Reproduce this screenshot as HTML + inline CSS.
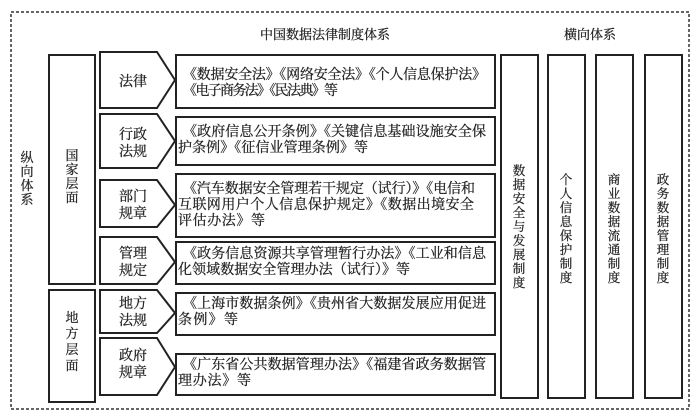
<!DOCTYPE html>
<html><head><meta charset="utf-8"><style>
html,body{margin:0;padding:0;background:#fff;}
svg{display:block}
text{font-family:"Liberation Serif","Noto Serif CJK SC",serif;fill:#222;stroke:#222;stroke-width:0.25;}
</style></head><body>
<svg width="700" height="419" viewBox="0 0 700 419" xmlns="http://www.w3.org/2000/svg">
<rect x="11" y="12" width="678" height="397" fill="none" stroke="#333" stroke-width="1.5" stroke-dasharray="3,2"/>
<g fill="none" stroke="#222" stroke-width="2">
<rect x="49" y="55" width="46" height="229"/>
<rect x="49" y="290" width="46" height="112"/>
<polygon points="100,52 157,52 175,80 157,108 100,108"/>
<polygon points="100,114 157,114 175,141 157,168 100,168"/>
<polygon points="100,180 157,180 175,205 157,227 100,227"/>
<polygon points="100,237 157,237 175,262 157,284 100,284"/>
<polygon points="100,290 157,290 175,313 157,333 100,333"/>
<polygon points="100,338 157,338 175,367 157,395 100,395"/>
<rect x="176" y="55" width="319" height="53"/>
<rect x="176" y="117" width="319" height="48"/>
<rect x="176" y="174" width="319" height="63"/>
<rect x="176" y="242" width="319" height="42"/>
<rect x="176" y="293" width="319" height="42"/>
<rect x="176" y="354" width="319" height="41"/>
<rect x="501" y="55" width="37" height="343"/>
<rect x="548" y="55" width="37" height="343"/>
<rect x="596" y="55" width="37" height="343"/>
<rect x="645" y="55" width="37" height="343"/>
</g>
<g font-size="14">
<text x="325" y="39" text-anchor="middle" font-size="13">中国数据法律制度体系</text>
<text x="590" y="39" text-anchor="middle" font-size="13">横向体系</text>
<g text-anchor="middle" font-size="13">
<text x="27" y="162">纵</text><text x="27" y="176">向</text><text x="27" y="190">体</text><text x="27" y="204">系</text>
<text x="72" y="160">国</text><text x="72" y="174">家</text><text x="72" y="188">层</text><text x="72" y="202">面</text>
<text x="72" y="322">地</text><text x="72" y="338">方</text><text x="72" y="354">层</text><text x="72" y="370">面</text>
</g>
<g text-anchor="middle">
<text x="133" y="86">法律</text>
<text x="133" y="139">行政</text><text x="133" y="156">法规</text>
<text x="133" y="201">部门</text><text x="133" y="218">规章</text>
<text x="133" y="258">管理</text><text x="133" y="275">规定</text>
<text x="133" y="308">地方</text><text x="133" y="325">法规</text>
<text x="133" y="360">政府</text><text x="133" y="377">规章</text>
</g>
<g text-anchor="middle" font-size="12.5">
<text x="519" y="175">数</text><text x="519" y="189">据</text><text x="519" y="203">安</text><text x="519" y="217">全</text><text x="519" y="231">与</text><text x="519" y="245">发</text><text x="519" y="259">展</text><text x="519" y="273">制</text><text x="519" y="287">度</text>
<text x="566" y="184">个</text><text x="566" y="198">人</text><text x="566" y="212">信</text><text x="566" y="226">息</text><text x="566" y="240">保</text><text x="566" y="254">护</text><text x="566" y="268">制</text><text x="566" y="282">度</text>
<text x="614" y="184">商</text><text x="614" y="198">业</text><text x="614" y="212">数</text><text x="614" y="226">据</text><text x="614" y="240">流</text><text x="614" y="254">通</text><text x="614" y="268">制</text><text x="614" y="282">度</text>
<text x="663" y="184">政</text><text x="663" y="198">务</text><text x="663" y="212">数</text><text x="663" y="226">据</text><text x="663" y="240">管</text><text x="663" y="254">理</text><text x="663" y="268">制</text><text x="663" y="282">度</text>
</g>
<text x="183" y="79" textLength="303">《数据安全法》《网络安全法》《个人信息保护法》</text>
<text x="183" y="95" textLength="155">《电子商务法》《民法典》等</text>
<text x="183" y="136" textLength="303">《政府信息公开条例》《关键信息基础设施安全保</text>
<text x="178" y="152" textLength="190">护条例》《征信业管理条例》等</text>
<text x="183" y="193" textLength="292">《汽车数据安全管理若干规定（试行）》《电信和</text>
<text x="178" y="209" textLength="296">互联网用户个人信息保护规定》《数据出境安全</text>
<text x="178" y="225" textLength="87">评估办法》等</text>
<text x="183" y="258" textLength="303">《政务信息资源共享管理暂行办法》《工业和信息</text>
<text x="178" y="274" textLength="232">化领域数据安全管理办法（试行）》等</text>
<text x="183" y="308" textLength="303">《上海市数据条例》《贵州省大数据发展应用促进</text>
<text x="178" y="324" textLength="60">条例》等</text>
<text x="183" y="369" textLength="303">《广东省公共数据管理办法》《福建省政务数据管</text>
<text x="178" y="385" textLength="73">理办法》等</text>
</g>
</svg>
</body></html>
